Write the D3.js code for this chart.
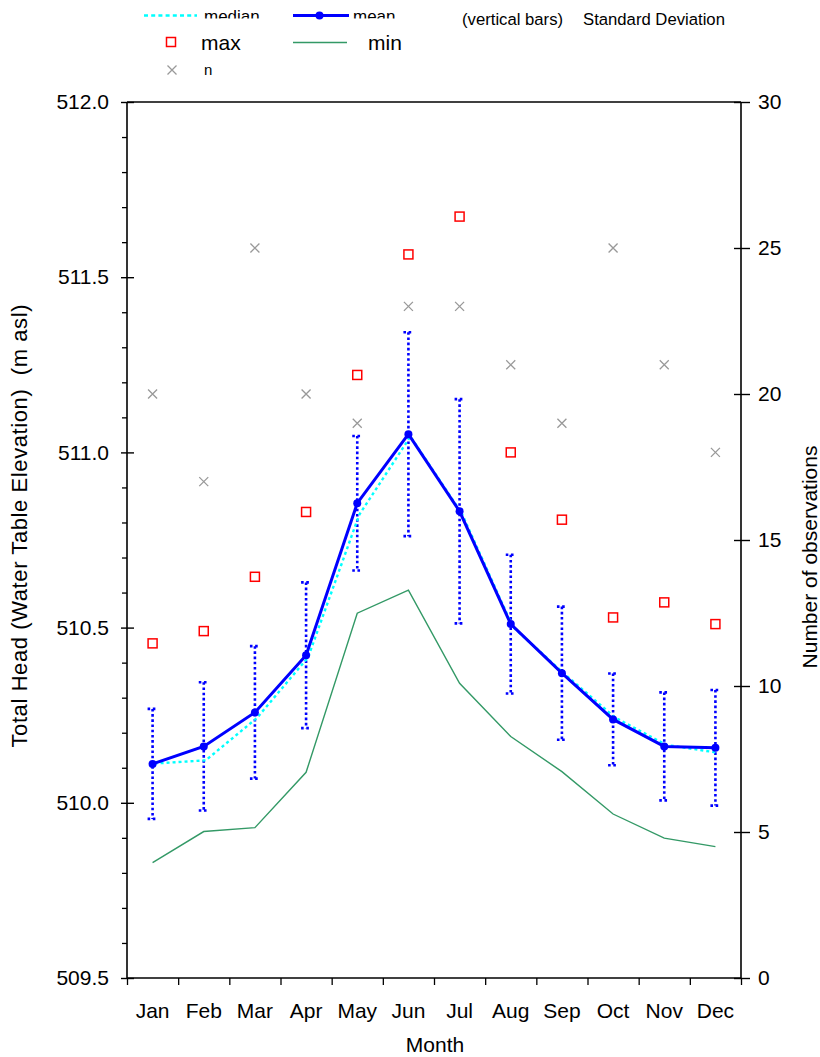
<!DOCTYPE html>
<html>
<head>
<meta charset="utf-8">
<script src="https://cdn.jsdelivr.net/npm/d3@7"></script>
<style>
  html, body { margin: 0; padding: 0; background: #fff; }
  svg { display: block; font-family: "Liberation Sans", Arial, sans-serif; }
</style>
</head>
<body>
<svg id="chart" width="820" height="1057"></svg>
<script>
// Monthly water table statistics
const months = ["Jan", "Feb", "Mar", "Apr", "May", "Jun", "Jul", "Aug", "Sep", "Oct", "Nov", "Dec"];
const meanHead   = [510.111, 510.161, 510.258, 510.421, 510.855, 511.052, 510.832, 510.510, 510.370, 510.238, 510.161, 510.157];
const medianHead = [510.115, 510.124, 510.245, 510.418, 510.825, 511.048, 510.830, 510.505, 510.372, 510.246, 510.168, 510.146];
const sdHead     = [0.157, 0.183, 0.189, 0.208, 0.192, 0.291, 0.320, 0.198, 0.190, 0.131, 0.154, 0.165];
const maxHead    = [510.455, 510.490, 510.645, 510.830, 511.221, 511.565, 511.673, 511.000, 510.808, 510.529, 510.572, 510.510];
const minHead    = [509.829, 509.918, 509.929, 510.087, 510.541, 510.607, 510.341, 510.189, 510.089, 509.968, 509.899, 509.875];
const nObs       = [20, 17, 25, 20, 19, 23, 23, 21, 19, 25, 21, 18];

const headTicks = [509.5, 510.0, 510.5, 511.0, 511.5, 512.0];
const countTicks = [0, 5, 10, 15, 20, 25, 30];

const svg = d3.select("#chart");
const L = 127, R = 741, T = 102, B = 978;
const FONT = "Liberation Sans, Arial, sans-serif";

const x = d3.scaleBand().domain(months).range([L, R]).padding(0);
const xEdge = d3.scaleLinear().domain([0, 12]).range([L, R]);
const y = d3.scaleLinear().domain([509.5, 512.0]).range([B, T]);
const yN = d3.scaleLinear().domain([0, 30]).range([B, T]);
const cx = m => x(m) + x.bandwidth() / 2;

const data = months.map((m, i) => ({
  m, mean: meanHead[i], median: medianHead[i], sd: sdHead[i],
  max: maxHead[i], min: minHead[i], n: nObs[i]
}));

// ---- axes ----
// frame: top line
svg.append("line").attr("x1", L).attr("x2", R).attr("y1", T).attr("y2", T)
  .attr("stroke", "#000").attr("stroke-width", 1.5);

// left axis: minor ticks every 0.1, majors crossing the axis line
const minorTicks = d3.range(0, 26).map(k => +(509.5 + k * 0.1).toFixed(1))
  .filter(v => headTicks.indexOf(v) < 0);
svg.append("g").attr("transform", `translate(${L},0)`)
  .call(d3.axisLeft(y).tickValues(minorTicks).tickSize(5).tickFormat(""))
  .call(g => g.select(".domain").remove())
  .selectAll("line").attr("stroke-width", 1.3);

const gl = svg.append("g").attr("transform", `translate(${L},0)`)
  .call(d3.axisLeft(y).tickValues(headTicks).tickSize(6).tickPadding(12)
    .tickFormat(d3.format(".1f")));
gl.select(".domain").attr("d", `M0,${T}V${B}`).attr("stroke-width", 1.6);
gl.selectAll(".tick line").attr("x1", 7).attr("stroke-width", 1.4);
gl.selectAll(".tick text").attr("font-size", 21).attr("fill", "#000").attr("font-family", FONT);

// right axis: observation counts
const gr = svg.append("g").attr("transform", `translate(${R},0)`)
  .call(d3.axisRight(yN).tickValues(countTicks).tickSize(9).tickPadding(8));
gr.select(".domain").attr("d", `M0,${T}V${B}`).attr("stroke-width", 1.6);
gr.selectAll(".tick line").attr("x1", -7).attr("stroke-width", 1.4);
gr.selectAll(".tick text").attr("font-size", 21).attr("fill", "#000").attr("font-family", FONT);

// bottom axis: ticks on month boundaries, labels centred in each month
const gbTicks = svg.append("g").attr("transform", `translate(0,${B})`)
  .call(d3.axisBottom(xEdge).tickValues(d3.range(0, 13)).tickSize(7).tickFormat(""));
gbTicks.select(".domain").attr("d", `M${L},0H${R}`).attr("stroke-width", 1.6);
gbTicks.selectAll(".tick line").attr("stroke-width", 1.3);

const gbLabels = svg.append("g").attr("transform", `translate(0,${B})`)
  .call(d3.axisBottom(x).tickSize(0).tickPadding(25));
gbLabels.select(".domain").remove();
gbLabels.selectAll(".tick text").attr("font-size", 21).attr("fill", "#000").attr("font-family", FONT);

// axis titles
svg.append("text").attr("x", (L + R) / 2 + 1).attr("y", 1052).attr("text-anchor", "middle")
  .attr("font-size", 21).text("Month");
svg.append("text").attr("transform", "translate(27,526) rotate(-90)")
  .attr("text-anchor", "middle").attr("font-size", 22)
  .attr("textLength", 443).attr("lengthAdjust", "spacing")
  .style("white-space", "pre")
  .text("Total Head (Water Table Elevation)  (m asl)");
svg.append("text").attr("transform", "translate(817,557) rotate(-90)")
  .attr("text-anchor", "middle").attr("font-size", 21)
  .text("Number of observations");

// ---- marks ----
const plot = svg.append("g");

// min line
plot.append("path").datum(data)
  .attr("d", d3.line().x(d => cx(d.m)).y(d => y(d.min)))
  .attr("fill", "none").attr("stroke", "#339966").attr("stroke-width", 1.4);

// standard deviation bars (dotted)
const bars = plot.append("g").attr("stroke", "#0000ff").attr("stroke-width", 2.6)
  .attr("stroke-dasharray", "2.6,2.6").attr("fill", "none");
bars.selectAll("line.v").data(data).join("line").attr("class", "v")
  .attr("x1", d => cx(d.m)).attr("x2", d => cx(d.m))
  .attr("y1", d => y(d.mean + d.sd)).attr("y2", d => y(d.mean - d.sd));
bars.selectAll("line.top").data(data).join("line").attr("class", "top")
  .attr("x1", d => cx(d.m) - 5).attr("x2", d => cx(d.m) + 5)
  .attr("y1", d => y(d.mean + d.sd)).attr("y2", d => y(d.mean + d.sd));
bars.selectAll("line.bot").data(data).join("line").attr("class", "bot")
  .attr("x1", d => cx(d.m) - 5).attr("x2", d => cx(d.m) + 5)
  .attr("y1", d => y(d.mean - d.sd)).attr("y2", d => y(d.mean - d.sd));

// median (cyan dotted)
plot.append("path").datum(data)
  .attr("d", d3.line().x(d => cx(d.m) + 2).y(d => y(d.median) + 1))
  .attr("fill", "none").attr("stroke", "#00ffff").attr("stroke-width", 2.4)
  .attr("stroke-dasharray", "3,3");

// mean line with dots
plot.append("path").datum(data)
  .attr("d", d3.line().x(d => cx(d.m)).y(d => y(d.mean)))
  .attr("fill", "none").attr("stroke", "#0000ff").attr("stroke-width", 3);
plot.selectAll("circle.mean").data(data).join("circle").attr("class", "mean")
  .attr("cx", d => cx(d.m)).attr("cy", d => y(d.mean)).attr("r", 4)
  .attr("fill", "#0000ff");

// max (red open squares)
plot.selectAll("rect.max").data(data).join("rect").attr("class", "max")
  .attr("x", d => cx(d.m) - 4.5).attr("y", d => y(d.max) - 4.5)
  .attr("width", 9).attr("height", 9)
  .attr("fill", "none").attr("stroke", "#ff0000").attr("stroke-width", 1.5);

// n (gray crosses, right axis)
const cross = (g, s) => g.append("path")
  .attr("d", `M${-s},${-s}L${s},${s}M${-s},${s}L${s},${-s}`)
  .attr("stroke", "#999").attr("stroke-width", 1.3).attr("fill", "none");
plot.selectAll("g.n").data(data).join("g").attr("class", "n")
  .attr("transform", d => `translate(${cx(d.m)},${yN(d.n)})`)
  .each(function () { cross(d3.select(this), 4.5); });

// ---- legend ----
const leg = svg.append("g").attr("font-size", 17).attr("fill", "#000");
svg.append("defs").append("clipPath").attr("id", "rowclip")
  .append("rect").attr("x", 0).attr("y", 0).attr("width", 440).attr("height", 18.5);

leg.append("line").attr("x1", 144).attr("x2", 197).attr("y1", 15.5).attr("y2", 15.5)
  .attr("stroke", "#00ffff").attr("stroke-width", 2.4).attr("stroke-dasharray", "4,3.2");
leg.append("text").attr("x", 204).attr("y", 22).attr("clip-path", "url(#rowclip)").text("median");

leg.append("line").attr("x1", 293).attr("x2", 349).attr("y1", 15.5).attr("y2", 15.5)
  .attr("stroke", "#0000ff").attr("stroke-width", 3);
leg.append("circle").attr("cx", 319.5).attr("cy", 15.5).attr("r", 4).attr("fill", "#0000ff");
leg.append("text").attr("x", 353).attr("y", 22).attr("clip-path", "url(#rowclip)").text("mean");

leg.append("text").attr("x", 462).attr("y", 25).attr("font-size", 16.7).text("(vertical bars)");
leg.append("text").attr("x", 583).attr("y", 25).attr("font-size", 16.7).text("Standard Deviation");

leg.append("rect").attr("x", 166.5).attr("y", 37.5).attr("width", 9).attr("height", 9)
  .attr("fill", "none").attr("stroke", "#ff0000").attr("stroke-width", 1.5);
leg.append("text").attr("x", 201).attr("y", 50).attr("font-size", 21).text("max");

leg.append("line").attr("x1", 293).attr("x2", 347).attr("y1", 42.5).attr("y2", 42.5)
  .attr("stroke", "#339966").attr("stroke-width", 1.4);
leg.append("text").attr("x", 368).attr("y", 50).attr("font-size", 21).text("min");

const lc = leg.append("g").attr("transform", "translate(172,70)");
cross(lc, 4.5);
leg.append("text").attr("x", 204).attr("y", 75).attr("font-size", 15).text("n");
</script>
</body>
</html>
